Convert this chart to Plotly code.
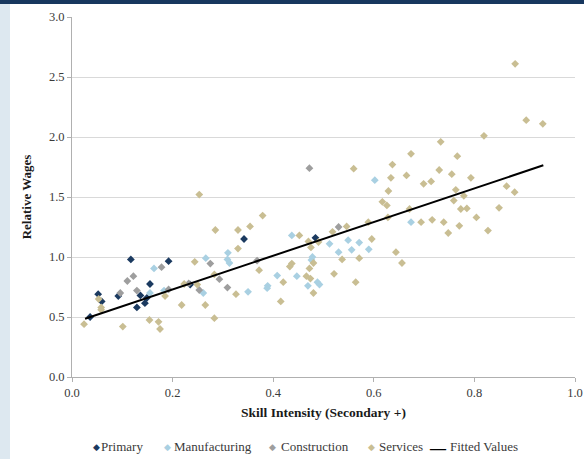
import plotly.graph_objects as go

primary_x = [0.036, 0.052, 0.059, 0.092, 0.117, 0.136, 0.129, 0.145, 0.149, 0.155, 0.192, 0.235, 0.342, 0.484]
primary_y = [0.50, 0.69, 0.63, 0.675, 0.98, 0.68, 0.58, 0.615, 0.66, 0.775, 0.965, 0.77, 1.15, 1.16]

manuf_x = [0.155, 0.163, 0.183, 0.261, 0.266, 0.310, 0.309, 0.313, 0.350, 0.389, 0.388, 0.408, 0.437,
           0.447, 0.469, 0.488, 0.492, 0.478, 0.476, 0.512, 0.530, 0.549, 0.556, 0.571, 0.590, 0.602, 0.674]
manuf_y = [0.70, 0.905, 0.72, 0.70, 0.99, 1.035, 0.98, 0.95, 0.71, 0.76, 0.74, 0.845, 1.18,
           0.84, 0.76, 0.79, 0.77, 1.00, 0.975, 1.11, 1.04, 1.14, 1.06, 1.12, 1.064, 1.64, 1.29]

constr_x = [0.096, 0.110, 0.122, 0.129, 0.178, 0.192, 0.232, 0.253, 0.275, 0.293, 0.309, 0.368, 0.472, 0.530]
constr_y = [0.70, 0.80, 0.84, 0.72, 0.915, 0.73, 0.78, 0.725, 0.945, 0.815, 0.745, 0.97, 1.74, 1.25]

serv_x = [0.024, 0.053, 0.058, 0.058, 0.101, 0.154, 0.172, 0.175, 0.185, 0.218, 0.223, 0.244, 0.253,
          0.249, 0.265, 0.283, 0.285, 0.283, 0.326, 0.330, 0.330, 0.354, 0.379, 0.372, 0.420, 0.415,
          0.452, 0.437, 0.433, 0.466, 0.474, 0.472, 0.480, 0.480, 0.470, 0.475, 0.490, 0.518, 0.546,
          0.521, 0.537, 0.571, 0.564, 0.596, 0.589, 0.560, 0.637, 0.634, 0.629, 0.617, 0.626, 0.628,
          0.644, 0.656, 0.881, 0.903, 0.936, 0.819, 0.733, 0.674, 0.766, 0.730, 0.665, 0.755, 0.793,
          0.699, 0.714, 0.763, 0.864, 0.880, 0.759, 0.779, 0.773, 0.785, 0.804, 0.849, 0.671, 0.694,
          0.716, 0.739, 0.748, 0.770, 0.827]
serv_y = [0.44, 0.65, 0.58, 0.56, 0.42, 0.475, 0.46, 0.40, 0.675, 0.60, 0.775, 0.96, 1.52,
          0.77, 0.60, 0.49, 1.225, 0.855, 0.69, 1.225, 1.07, 1.255, 1.345, 0.89, 0.79, 0.63,
          1.18, 0.945, 0.92, 0.84, 0.82, 0.905, 0.70, 0.95, 1.13, 1.08, 1.125, 1.21, 1.255,
          0.86, 0.98, 0.99, 0.79, 1.15, 1.29, 1.736, 1.77, 1.66, 1.55, 1.46, 1.43, 1.33,
          1.04, 0.95, 2.61, 2.14, 2.11, 2.01, 1.96, 1.86, 1.84, 1.725, 1.68, 1.69, 1.66,
          1.61, 1.63, 1.56, 1.59, 1.54, 1.47, 1.51, 1.40, 1.405, 1.33, 1.41, 1.40, 1.29,
          1.31, 1.29, 1.20, 1.26, 1.22]

fit_x = [0.026, 0.937]
fit_y = [0.486, 1.764]

x_ticks = [0.0, 0.2, 0.4, 0.6, 0.8, 1.0]
y_ticks = [0.0, 0.5, 1.0, 1.5, 2.0, 2.5, 3.0]

series_names = ["Primary", "Manufacturing", "Construction", "Services", "Fitted Values"]
series_colors = ["#1b3a60", "#a9d0e2", "#9e9e9e", "#c9be93", "#000000"]

FONT = "Liberation Serif, Times New Roman, serif"
TXT = "#3a3a3a"
msize = 6

# plot area geometry (pixels)
W, H = 584, 459
ML, MR, MT, MB = 72, 9, 17, 82
PW, PH = W - ML - MR, H - MT - MB


def px_x(p):
    return (p - ML) / PW


def px_y(p):
    return (H - MB - p) / PH


fig = go.Figure()
point_sets = [(primary_x, primary_y), (manuf_x, manuf_y), (constr_x, constr_y), (serv_x, serv_y)]
for (xs, ys), name, col in zip(point_sets, series_names[:4], series_colors[:4]):
    fig.add_trace(go.Scatter(x=xs, y=ys, mode="markers", name=name,
                             marker=dict(symbol="diamond", size=msize, color=col, line=dict(width=0))))
fig.add_trace(go.Scatter(x=fit_x, y=fit_y, mode="lines", name=series_names[4],
                         line=dict(color="black", width=2)))

# legend drawn as a row of texts (symbol + name)
legend_sym_x = [91, 162, 267, 366, 427]
legend_txt_x = [99, 172, 279, 377, 448]
annotations = []
for i, (name, col) in enumerate(zip(series_names, series_colors)):
    sym = "\u25C6" if i < 4 else "\u2014"
    sym_size = 9 if i < 4 else 18
    annotations.append(dict(
        x=px_x(legend_sym_x[i]), y=px_y(447), xref="paper", yref="paper",
        xanchor="left", yanchor="middle", showarrow=False, text=sym,
        font=dict(family="DejaVu Sans", size=sym_size, color=col)))
    annotations.append(dict(
        x=px_x(legend_txt_x[i]), y=px_y(446), xref="paper", yref="paper",
        xanchor="left", yanchor="middle", showarrow=False, text=name,
        font=dict(family=FONT, size=13, color=TXT)))

fig.update_layout(
    width=W, height=H,
    margin=dict(l=ML, r=MR, t=MT, b=MB, autoexpand=False),
    paper_bgcolor="white", plot_bgcolor="white",
    font=dict(family=FONT, size=12, color=TXT),
    showlegend=False,
    xaxis=dict(range=[0, 1], tickvals=x_ticks, ticktext=[f"{v:.1f}" for v in x_ticks],
               showgrid=False, zeroline=False, showline=True, linecolor="#b0b0b0", linewidth=1,
               ticks="outside", ticklen=4, tickcolor="#b0b0b0", automargin=False,
               tickfont=dict(family=FONT, size=12.5, color=TXT),
               title=dict(text="<b>Skill Intensity (Secondary +)</b>",
                          font=dict(family=FONT, size=13.5, color="#1a1a1a"), standoff=8)),
    yaxis=dict(range=[0, 3], tickvals=y_ticks, ticktext=[f"{v:.1f}" for v in y_ticks],
               showgrid=True, gridcolor="#d9d9d9", gridwidth=1, zeroline=False,
               showline=True, linecolor="#b0b0b0", linewidth=1,
               ticks="outside", ticklen=4, tickcolor="#b0b0b0", automargin=False,
               tickfont=dict(family=FONT, size=12.5, color=TXT),
               title=dict(text="<b>Relative Wages</b>",
                          font=dict(family=FONT, size=13, color="#1a1a1a"), standoff=14)),
    annotations=annotations,
    shapes=[
        dict(type="rect", xref="paper", yref="paper", x0=px_x(-5), x1=px_x(W + 5), y0=px_y(4), y1=px_y(-5),
             fillcolor="#17375e", line=dict(width=0), layer="below"),
        dict(type="rect", xref="paper", yref="paper", x0=px_x(-5), x1=px_x(10), y0=px_y(H + 5), y1=px_y(4),
             fillcolor="#dde8f0", line=dict(width=0), layer="below"),
    ],
)

fig.write_html("out.html", config={"displayModeBar": False},
               post_script="document.body.style.margin='0';document.body.style.overflow='hidden';")
